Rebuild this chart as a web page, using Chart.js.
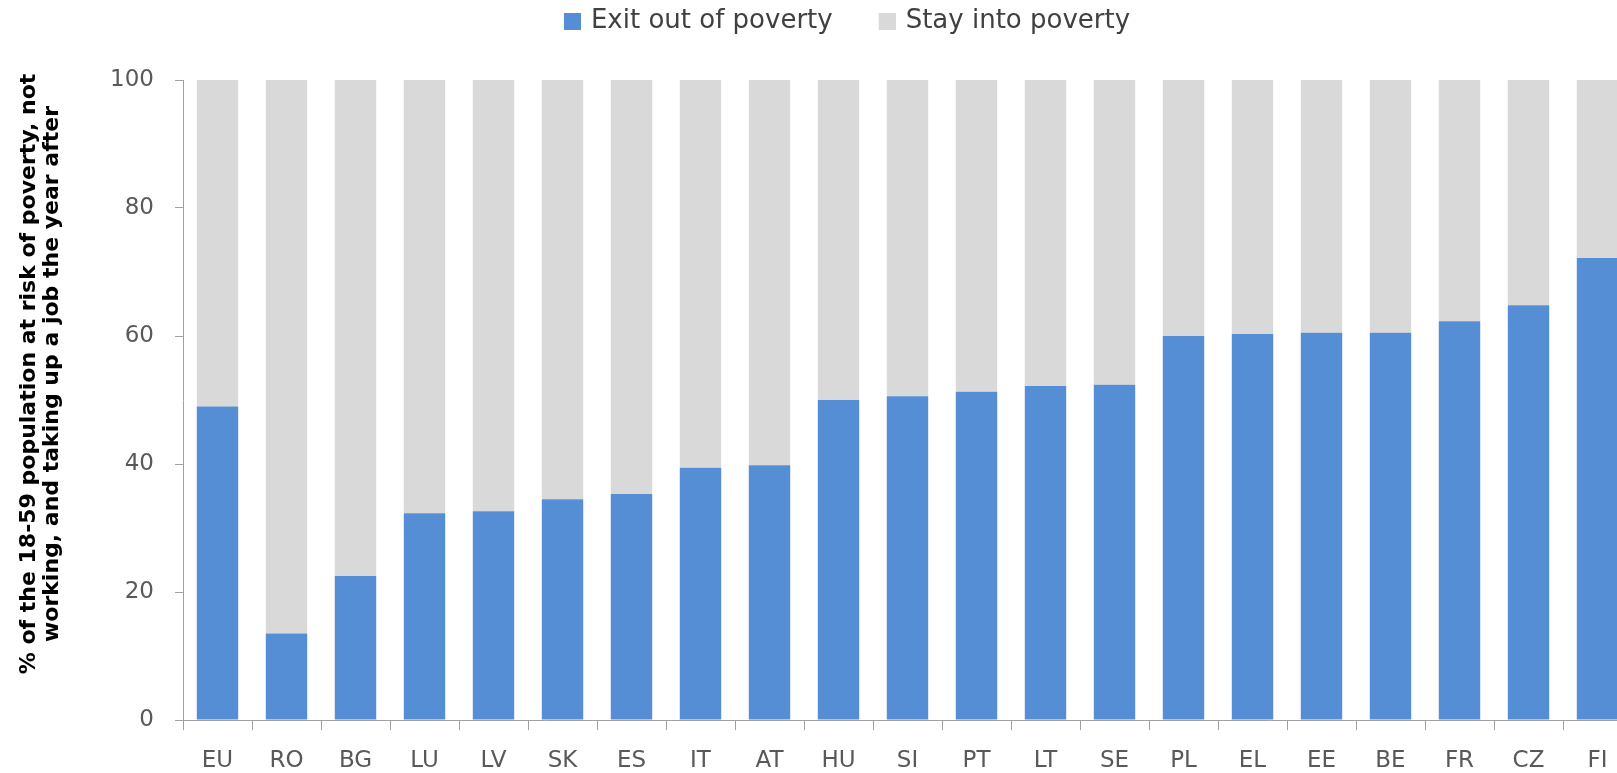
<!DOCTYPE html>
<html>
<head>
<meta charset="utf-8">
<script src="https://cdn.jsdelivr.net/npm/chart.js@4.4.1/dist/chart.umd.min.js"></script>
<style>
  html, body { margin: 0; padding: 0; overflow: hidden; background: #ffffff; }
  #wrap { position: relative; width: 1656px; height: 773px; }
</style>
</head>
<body>
<div id="wrap"><canvas id="c"></canvas></div>
<script>
const categories = ["EU","RO","BG","LU","LV","SK","ES","IT","AT","HU","SI","PT","LT","SE","PL","EL","EE","BE","FR","CZ","FI"];
const exitOutOfPoverty = [49.0, 13.5, 22.5, 32.3, 32.6, 34.5, 35.3, 39.4, 39.8, 50.0, 50.6, 51.3, 52.2, 52.4, 60.0, 60.3, 60.5, 60.5, 62.3, 64.8, 72.2];
const stayIntoPoverty = [51.0, 86.5, 77.5, 67.7, 67.4, 65.5, 64.7, 60.6, 60.2, 50.0, 49.4, 48.7, 47.8, 47.6, 40.0, 39.7, 39.5, 39.5, 37.7, 35.2, 27.8];
const seriesNames = ["Exit out of poverty", "Stay into poverty"];
const yTitleLines = ["% of the 18-59 population at risk of poverty, not", "working, and taking up a job the year after"];
const yTicks = [0, 20, 40, 60, 80, 100];

const BLUE = '#558ED5';
const GREY = '#D9D9D9';
const AXIS = '#A0A0A0';
const TEXT = '#595959';
const FONT = "'DejaVu Sans', sans-serif";

function makeIcon(color) {
  const cv = document.createElement('canvas');
  cv.width = 58; cv.height = 17;
  const g = cv.getContext('2d');
  g.fillStyle = color;
  g.fillRect(41, 0, 17, 17);
  return cv;
}
const legendIcons = [makeIcon(BLUE), makeIcon(GREY)];

const shiftTitle = {
  id: 'shiftTitle',
  beforeDraw(chart) {
    const s = chart.scales.y;
    if (s && !s._titleShifted) {
      const orig = s.drawTitle;
      s.drawTitle = function () {
        this.ctx.save();
        this.ctx.translate(0, -26);
        orig.apply(this, arguments);
        this.ctx.restore();
      };
      s._titleShifted = true;
    }
  }
};

new Chart(document.getElementById('c'), {
  type: 'bar',
  data: {
    labels: categories,
    datasets: [
      { label: seriesNames[0], data: exitOutOfPoverty, backgroundColor: BLUE, borderWidth: 0, categoryPercentage: 1.0, barPercentage: 0.6 },
      { label: seriesNames[1], data: stayIntoPoverty, backgroundColor: GREY, borderWidth: 0, categoryPercentage: 1.0, barPercentage: 0.6 }
    ]
  },
  plugins: [shiftTitle],
  options: {
    responsive: true,
    maintainAspectRatio: false,
    animation: false,
    layout: { padding: 0 },
    plugins: {
      tooltip: { enabled: false },
      legend: {
        position: 'top',
        labels: {
          usePointStyle: true,
          pointStyleWidth: 52,
          padding: 8,
          color: '#404040',
          font: { family: FONT, size: 26 },
          generateLabels(chart) {
            const items = Chart.defaults.plugins.legend.labels.generateLabels(chart);
            items.forEach((it, i) => { it.pointStyle = legendIcons[i]; });
            return items;
          }
        }
      }
    },
    scales: {
      x: {
        stacked: true,
        grid: { display: true, offset: true, drawOnChartArea: false, drawTicks: true, tickLength: 10, color: AXIS },
        border: { display: true, color: AXIS, width: 1 },
        ticks: { color: TEXT, font: { family: FONT, size: 23 }, padding: 17, maxRotation: 0, autoSkip: false },
        afterFit(s) { s.height = 53; }
      },
      y: {
        stacked: true,
        min: 0, max: 100,
        afterBuildTicks(s) { s.ticks = yTicks.map(v => ({ value: v })); },
        grid: { display: true, drawOnChartArea: false, drawTicks: true, tickLength: 8, color: AXIS },
        border: { display: true, color: AXIS, width: 1 },
        ticks: { color: TEXT, font: { family: FONT, size: 23 }, padding: 21 },
        title: {
          display: true,
          text: yTitleLines,
          color: '#000000',
          font: { family: FONT, size: 22, weight: 'bold', lineHeight: 1.05 },
          padding: { top: 17.5, bottom: 0 }
        },
        afterFit(s) { s.width = 183; }
      },
      xTop: {
        type: 'linear', position: 'top', display: true,
        grid: { display: false }, ticks: { display: false }, border: { display: false },
        afterFit(s) { s.height = 36; }
      },
      yRight: {
        type: 'linear', position: 'right', display: true,
        grid: { display: false }, ticks: { display: false }, border: { display: false },
        afterFit(s) { s.width = 24; }
      }
    }
  }
});
</script>
</body>
</html>
